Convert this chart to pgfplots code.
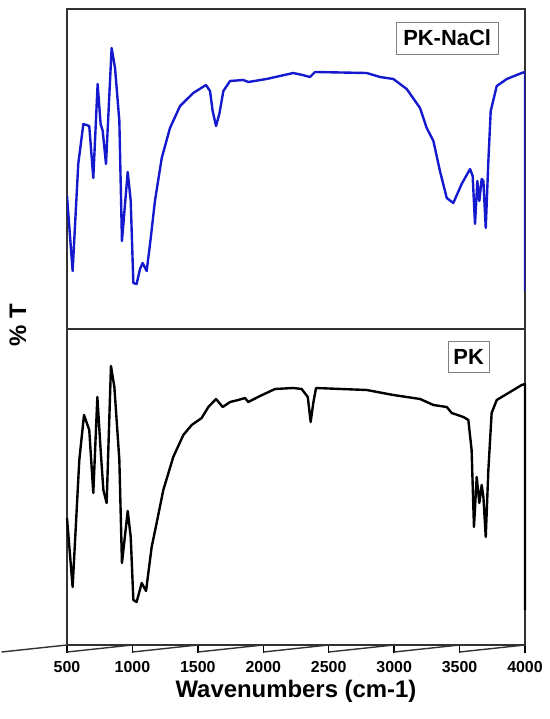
\documentclass[border=0pt]{standalone}
\usepackage{fontspec}
\setmainfont{Liberation Sans}
\usepackage{pgfplots}
\pgfplotsset{compat=1.18}
\definecolor{spblue}{RGB}{20,25,205}
\definecolor{framegray}{RGB}{50,50,50}

\begin{document}
\begin{tikzpicture}
% lower panel: PK
\begin{axis}[scale only axis, width=458bp, height=316bp,
  at={(0,0)}, anchor=south west, clip=false,
  xmin=500, xmax=4000, ymin=0, ymax=316, ytick=\empty,
  xtick={500,1000,...,4000},
  xticklabels={500,1000,1500,2000,2500,3000,3500,4000},
  tick align=outside, xtick pos=left, major tick length=8bp,
  every tick/.style={black, line width=1.5pt},
  axis line style={framegray, line width=1.3pt},
  xticklabel style={font=\bfseries\fontsize{16}{16}\selectfont, yshift=-5bp},
  xlabel={Wavenumbers (cm-1)},
  xlabel style={font=\bfseries\fontsize{24}{24}\selectfont, yshift=-1bp},
]
\addplot[black, line width=2.4pt, line join=round] coordinates {
(500,127) (543,58) (594,185) (630,230) (670,215) (701,152) (732,248) (757,195)
(778,155) (803,142) (836,279) (862,258) (900,185) (920,82) (964,134) (987,108)
(1007,45) (1032,43) (1071,62) (1104,54) (1147,98) (1185,122) (1236,155)
(1312,188) (1389,210) (1453,220) (1529,227) (1580,238) (1639,246) (1690,238)
(1746,243) (1809,245) (1860,247) (1885,243) (1975,249) (2090,256) (2229,257)
(2293,256) (2340,248) (2362,223) (2382,242) (2403,257) (2790,255) (2994,250)
(3198,246) (3300,240) (3402,238) (3440,232) (3529,228) (3567,225) (3592,195)
(3610,118) (3631,168) (3651,142) (3669,160) (3682,148) (3700,108) (3720,175)
(3745,232) (3784,245) (3886,253) (3975,260) (4000,261) (4000,35)
};
% tick marks below the lower axis
\pgfplotsinvokeforeach{500,1000,1500,2000,2500,3000,3500,4000}{
  \draw[framegray, line width=1.4pt] (axis cs:#1,0) -- ++(0,-7bp);
}
\node[draw=gray, line width=0.6pt, fill=white, inner xsep=5bp, inner ysep=8bp,
  font=\bfseries\fontsize{22}{22}\selectfont] at (rel axis cs:0.877,0.911) {PK};
\end{axis}
% upper panel: PK-NaCl
\begin{axis}[scale only axis, width=458bp, height=320bp,
  at={(0,316bp)}, anchor=south west,
  xmin=500, xmax=4000, ymin=0, ymax=320, xtick=\empty, ytick=\empty,
  axis line style={framegray, line width=1.3pt},
]
\addplot[spblue, line width=2.4pt, line join=round] coordinates {
(500,133) (543,58) (586,165) (625,205) (670,203) (701,151) (734,245) (757,205)
(773,198) (798,165) (841,281) (867,261) (900,208) (920,88) (964,157) (987,128)
(1007,46) (1032,45) (1058,60) (1078,66) (1109,58) (1140,91) (1172,128)
(1224,171) (1287,201) (1364,223) (1465,236) (1562,244) (1593,238) (1613,218)
(1639,203) (1664,215) (1695,238) (1746,248) (1847,249) (1886,247) (2025,250)
(2229,256) (2300,254) (2357,252) (2395,257) (2790,256) (2892,252) (2994,250)
(3096,240) (3198,221) (3249,201) (3300,188) (3350,158) (3402,131) (3452,126)
(3516,145) (3580,160) (3600,153) (3618,105) (3636,148) (3651,128) (3669,150)
(3682,148) (3700,101) (3720,168) (3738,218) (3784,243) (3861,250) (3975,256)
(4000,257) (4000,38)
};
\node[draw=gray, line width=0.6pt, fill=white, inner xsep=7bp, inner ysep=8bp,
  font=\bfseries\fontsize{22}{22}\selectfont] at (rel axis cs:0.83,0.909) {PK-NaCl};
\end{axis}
\node[rotate=90, font=\bfseries\fontsize{24}{24}\selectfont] at (-49bp,320bp) {\% T};
\pgfresetboundingbox
\path[use as bounding box] (-67bp,-74bp) rectangle (483bp,645bp);
\end{tikzpicture}
\end{document}
